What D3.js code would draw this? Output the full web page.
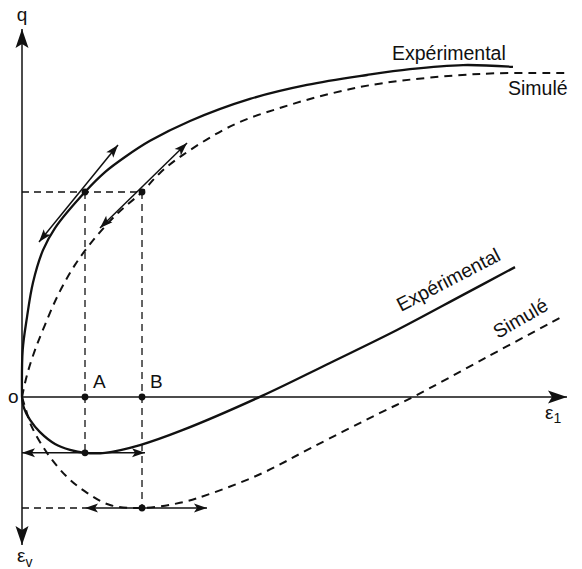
<!DOCTYPE html>
<html>
<head>
<meta charset="utf-8">
<script src="https://cdn.jsdelivr.net/npm/d3@7"></script>
<style>
html,body{margin:0;padding:0;background:#fff;}
svg{display:block;}
text{font-family:"Liberation Sans",Arial,Helvetica,sans-serif;fill:#111;}
</style>
</head>
<body>
<svg id="chart" width="582" height="569"></svg>
<script>
// ---- data (ε1 in arbitrary units, q and εv in arbitrary units) ----
const expQ = [[0,0],[0.013,12.8],[0.092,21.7],[0.20,31.0],[0.385,39.9],[0.605,45.9],[1.156,55.7],[1.523,61.1],[1.890,65.2],[2.349,69.6],[3.083,75.0],[4.183,81.0],[5.229,84.8],[6.330,87.5],[7.119,89.1],[8.092,90.2],[9.009,89.7]];
const simQ = [[0,0],[0.092,6.0],[0.239,12.8],[0.422,19.6],[0.661,27.7],[0.972,35.9],[1.339,43.2],[1.761,50.0],[2.202,55.7],[2.532,60.9],[2.954,65.8],[3.872,73.9],[4.789,78.8],[5.706,82.6],[6.624,85.3],[8.404,87.8],[10.055,88.0]];
const expEv = [[0,0],[0.037,3.0],[0.147,6.2],[0.330,9.5],[0.606,12.7],[0.881,14.3],[1.156,15.1],[1.523,15.1],[2.165,13.0],[2.954,8.9],[4.404,-0.3],[5.651,-9.2],[6.881,-18.1],[8.092,-27.6],[9.046,-35.1]];
const simEv = [[0,0],[0.073,3.5],[0.165,7.6],[0.459,15.1],[0.826,21.6],[1.193,25.9],[1.615,29.2],[2.202,30.0],[2.899,28.6],[3.505,25.9],[4.422,20.5],[5.339,13.5],[6.569,4.3],[7.174,0],[8.532,-10.8],[9.872,-21.4]];
const pointE1 = [1.156, 2.202];        // A, B
const pointLabels = ["A", "B"];
const pointQ = 55.7;                   // common q level of A and B
const evMin = [15.1, 30.0];            // εv at A (exp) and B (sim)
const tangentA = [[0.312,42.1],[1.761,68.5]];
const tangentB = [[1.431,45.9],[3.028,69.0]];
const arrowExpEv = [0, 2.257];
const arrowSimEv = [1.156, 3.394];
const curveLabels = ["Expérimental", "Simulé"];
const axisLabels = {q:"q", e1:"ε", e1sub:"1", ev:"ε", evsub:"v", o:"o"};

// ---- scales ----
const x = d3.scaleLinear().domain([0,10]).range([22,567]);
const yq = d3.scaleLinear().domain([0,100]).range([397,29]);
const yv = d3.scaleLinear().domain([0,40]).range([397,545]);

const svg = d3.select("#chart");
const defs = svg.append("defs");
function marker(id, len, half, notch){
  defs.append("marker").attr("id",id)
    .attr("markerUnits","userSpaceOnUse")
    .attr("viewBox",`${-len-1} ${-half-1} ${len+2} ${2*half+2}`)
    .attr("markerWidth",len+2).attr("markerHeight",2*half+2)
    .attr("refX",0).attr("refY",0)
    .attr("orient","auto-start-reverse")
    .append("path").attr("d",`M0,0 L${-len},${-half} L${-len+notch},0 L${-len},${half} Z`)
    .attr("fill","#111");
}
marker("big",19,6.5,4);
marker("small",13,4.5,3);

const ink = "#111";
// axes
svg.append("line").attr("x1",x(0)).attr("y1",yq(0)).attr("x2",x(0)).attr("y2",yq(100))
  .attr("stroke",ink).attr("stroke-width",1.5).attr("marker-end","url(#big)");
svg.append("line").attr("x1",x(0)).attr("y1",yv(0)).attr("x2",x(0)).attr("y2",yv(40))
  .attr("stroke",ink).attr("stroke-width",1.5).attr("marker-end","url(#big)");
svg.append("line").attr("x1",x(0)).attr("y1",yq(0)).attr("x2",x(10)).attr("y2",yq(0))
  .attr("stroke",ink).attr("stroke-width",1.5).attr("marker-end","url(#big)");

// dashed guides
const guide = (x1,y1,x2,y2)=>svg.append("line").attr("x1",x1).attr("y1",y1).attr("x2",x2).attr("y2",y2)
  .attr("stroke",ink).attr("stroke-width",1.3).attr("stroke-dasharray","7,5");
guide(x(0), yq(pointQ), x(pointE1[1]), yq(pointQ));
guide(x(pointE1[0]), yq(pointQ), x(pointE1[0]), yv(evMin[0]));
guide(x(pointE1[1]), yq(pointQ), x(pointE1[1]), yv(evMin[1]));
guide(x(0), yv(evMin[1]), x(arrowSimEv[0]), yv(evMin[1]));

// curves
const lineQ = d3.line().x(d=>x(d[0])).y(d=>yq(d[1])).curve(d3.curveCatmullRom.alpha(0.5));
const lineV = d3.line().x(d=>x(d[0])).y(d=>yv(d[1])).curve(d3.curveCatmullRom.alpha(0.5));
svg.append("path").attr("d",lineQ(expQ)).attr("fill","none").attr("stroke",ink).attr("stroke-width",2.3);
svg.append("path").attr("d",lineQ(simQ)).attr("fill","none").attr("stroke",ink).attr("stroke-width",2).attr("stroke-dasharray","8,6");
svg.append("path").attr("d",lineV(expEv)).attr("fill","none").attr("stroke",ink).attr("stroke-width",2.3);
svg.append("path").attr("d",lineV(simEv)).attr("fill","none").attr("stroke",ink).attr("stroke-width",2).attr("stroke-dasharray","8,6");

// double arrows
const dbl = (x1,y1,x2,y2)=>svg.append("line").attr("x1",x1).attr("y1",y1).attr("x2",x2).attr("y2",y2)
  .attr("stroke",ink).attr("stroke-width",1.5)
  .attr("marker-start","url(#small)").attr("marker-end","url(#small)");
dbl(x(tangentA[0][0]), yq(tangentA[0][1]), x(tangentA[1][0]), yq(tangentA[1][1]));
dbl(x(tangentB[0][0]), yq(tangentB[0][1]), x(tangentB[1][0]), yq(tangentB[1][1]));
dbl(x(arrowExpEv[0]), yv(evMin[0]), x(arrowExpEv[1]), yv(evMin[0]));
dbl(x(arrowSimEv[0]), yv(evMin[1]), x(arrowSimEv[1]), yv(evMin[1]));

// dots
const dots = [
  [x(pointE1[0]), yq(pointQ)], [x(pointE1[1]), yq(pointQ)],
  [x(pointE1[0]), yq(0)], [x(pointE1[1]), yq(0)],
  [x(pointE1[0]), yv(evMin[0])], [x(pointE1[1]), yv(evMin[1])]
];
svg.selectAll("circle.dot").data(dots).enter().append("circle")
  .attr("cx",d=>d[0]).attr("cy",d=>d[1]).attr("r",3.4).attr("fill",ink);

// labels
const fs = 19;
svg.selectAll("text.pt").data(pointE1).enter().append("text")
  .attr("x",d=>x(d)+8).attr("y",yq(0)-9).attr("font-size",fs).text((d,i)=>pointLabels[i]);
svg.append("text").attr("x",x(0)-14).attr("y",yq(0)+6).attr("font-size",fs).text(axisLabels.o);
svg.append("text").attr("x",x(0)).attr("y",21).attr("font-size",fs).attr("text-anchor","middle").text(axisLabels.q);
const e1t = svg.append("text").attr("x",x(10)-22).attr("y",yq(0)+22).attr("font-size",fs);
e1t.append("tspan").text(axisLabels.e1);
e1t.append("tspan").attr("font-size",14).attr("dy",4).text(axisLabels.e1sub);
const evt = svg.append("text").attr("x",x(0)-5).attr("y",yv(40)+17).attr("font-size",fs);
evt.append("tspan").text(axisLabels.ev);
evt.append("tspan").attr("font-size",14).attr("dy",5).text(axisLabels.evsub);

svg.append("text").attr("x",392).attr("y",60).attr("font-size",19.5).text(curveLabels[0]);
svg.append("text").attr("x",508).attr("y",95).attr("font-size",19.5).text(curveLabels[1]);
svg.append("text").attr("transform","translate(401,312) rotate(-27.5)").attr("font-size",19.5).text(curveLabels[0]);
svg.append("text").attr("transform","translate(498,339) rotate(-30)").attr("font-size",19.5).text(curveLabels[1]);
</script>
</body>
</html>
